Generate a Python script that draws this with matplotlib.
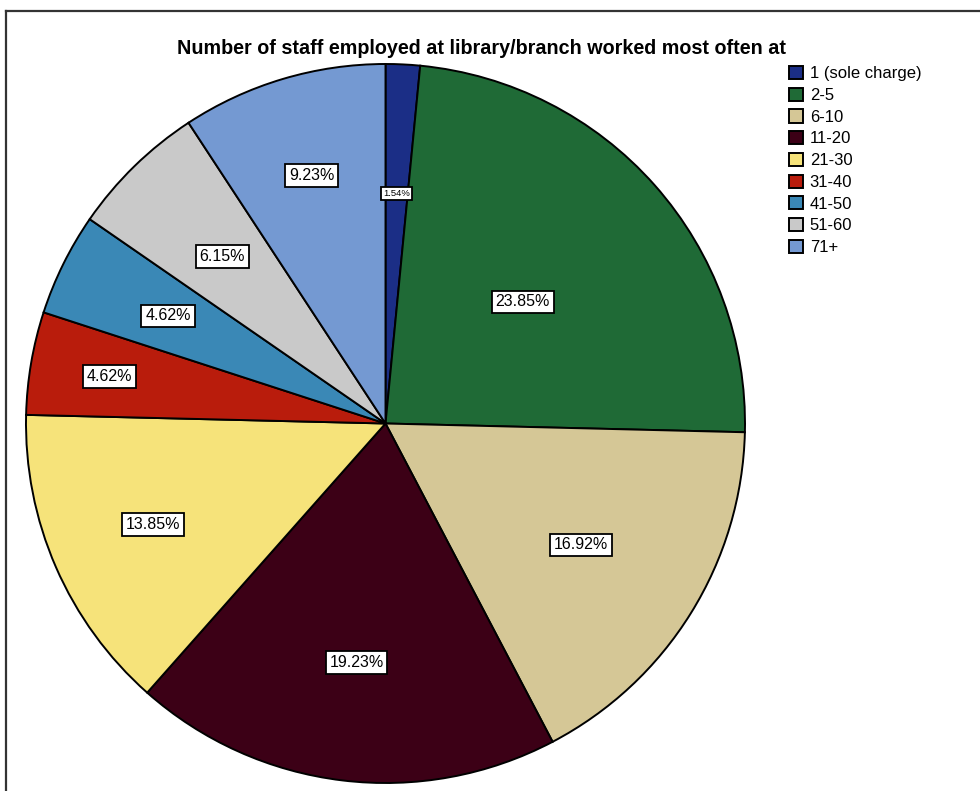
import matplotlib
matplotlib.use("Agg")
import matplotlib.pyplot as plt
from matplotlib.lines import Line2D
import numpy as np

# ── Data ──────────────────────────────────────────────────────────────────────
categories = ["1 (sole charge)", "2-5", "6-10", "11-20", "21-30",
              "31-40", "41-50", "51-60", "71+"]
percentages = [1.54, 23.85, 16.92, 19.23, 13.85, 4.62, 4.62, 6.15, 9.23]

# ── Style ─────────────────────────────────────────────────────────────────────
colors = ["#1b2e86", "#1f6a36", "#d5c796", "#3c0016", "#f6e37a",
          "#b91c0c", "#3a88b6", "#c9c9c9", "#7499d2"]
label_radius = [0.64, 0.51, 0.64, 0.67, 0.705, 0.78, 0.675, 0.65, 0.72]
label_size = [6.8, 11.5, 11.5, 11.5, 11.5, 11.5, 11.5, 11.5, 11.5]

plt.rcParams["font.family"] = ["Liberation Sans", "DejaVu Sans"]

fig = plt.figure(figsize=(9.8, 7.91), dpi=100)
fig.patch.set_facecolor("white")

# pie axes: centre (385, 423) px, radius 360 px
W, H = 980, 791
cx, cy, r = 385.5, 423.5, 359.5
ax = fig.add_axes([(cx - r) / W, (H - cy - r) / H, 2 * r / W, 2 * r / H])

wedges, _ = ax.pie(
    percentages,
    colors=colors,
    startangle=90,
    counterclock=False,
    radius=1.0,
    wedgeprops=dict(edgecolor="black", linewidth=1.4),
)
ax.set_xlim(-1, 1)
ax.set_ylim(-1, 1)
ax.set_aspect("equal")
ax.axis("off")

# percentage labels in white boxes
for w, pct, rad, fs in zip(wedges, percentages, label_radius, label_size):
    mid = np.deg2rad((w.theta1 + w.theta2) / 2)
    ax.text(rad * np.cos(mid), rad * np.sin(mid), f"{pct:.2f}%",
            ha="center", va="center", fontsize=fs, color="black",
            bbox=dict(boxstyle="square,pad=0.24", facecolor="white",
                      edgecolor="black", linewidth=1.3),
            zorder=5)

# title
fig.text(481 / W, 1 - 49 / H,
         "Number of staff employed at library/branch worked most often at",
         ha="center", va="center", fontsize=14.2, fontweight="bold")

# legend
fig.legend(wedges, categories, loc="upper left",
           bbox_to_anchor=(789 / W, 1 - 66 / H),
           frameon=False, fontsize=12, borderpad=0, borderaxespad=0,
           handlelength=0.84, handleheight=0.84, handletextpad=0.4,
           labelspacing=0.38)

# frame lines (top and left)
fig.add_artist(Line2D([6 / W, 1.0], [1 - 11 / H, 1 - 11 / H],
                      color="#333333", linewidth=1.6))
fig.add_artist(Line2D([6 / W, 6 / W], [0.0, 1 - 11 / H],
                      color="#333333", linewidth=1.6))

fig.savefig("out.png", dpi=100, facecolor="white")
